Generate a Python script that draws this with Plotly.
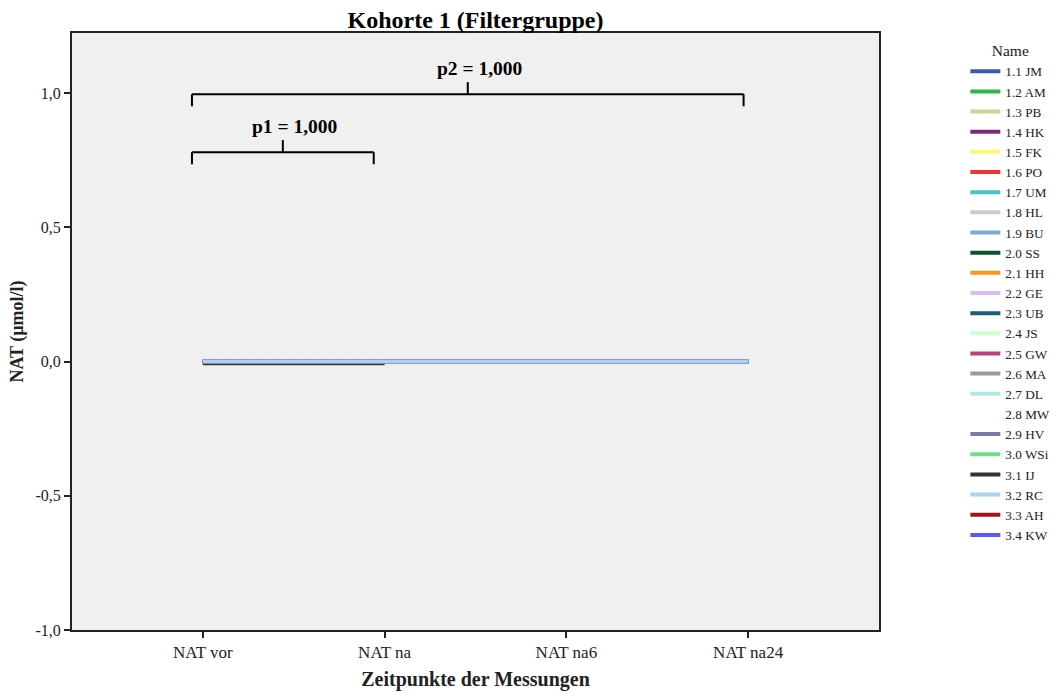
import plotly.graph_objects as go

# ---- data ----
time_points = ["NAT vor", "NAT na", "NAT na6", "NAT na24"]
names = ["1.1 JM", "1.2 AM", "1.3 PB", "1.4 HK", "1.5 FK", "1.6 PO", "1.7 UM", "1.8 HL",
         "1.9 BU", "2.0 SS", "2.1 HH", "2.2 GE", "2.3 UB", "2.4 JS", "2.5 GW", "2.6 MA",
         "2.7 DL", "2.8 MW", "2.9 HV", "3.0 WSi", "3.1 IJ", "3.2 RC", "3.3 AH", "3.4 KW"]
colors = ["#3e58ac", "#2eb848", "#d3ce97", "#7c287d", "#fbf873", "#ef3338", "#48c2c5", "#cccccc",
          "#7aaad5", "#0a562c", "#f8981d", "#ddbaf1", "#1a5f76", "#ccffcc", "#bb3f7f", "#999999",
          "#b5e7e7", "#ffffff", "#797aa7", "#70dc84", "#333333", "#acd0ee", "#a21619", "#5858fb"]
# NAT values (µmol/l) per subject; all measured at 0
values = {n: [0.0, 0.0, 0.0, 0.0] for n in names}
values["3.1 IJ"] = [-0.006, -0.006, None, None]
values["2.8 MW"] = [None, None, None, None]

# significance comparisons: (from index, to index, label, level)
comparisons = [(0, 1, "p1 = 1,000", 0.78), (0, 3, "p2 = 1,000", 0.996)]

y_ticks = [-1.0, -0.5, 0.0, 0.5, 1.0]
y_tick_labels = ["-1,0", "-0,5", "0,0", "0,5", "1,0"]

FONT = "Liberation Serif"

fig = go.Figure()
order = [n for n in names if n != "3.2 RC"] + ["3.2 RC"]
for n in order:
    i = names.index(n)
    fig.add_trace(go.Scatter(
        x=time_points, y=values[n], mode="lines", name=n,
        line=dict(color=colors[i], width=4),
        legendrank=i + 1,
    ))

shapes = []
annotations = []
left_off = -0.06
for a, b, label, lvl in comparisons:
    right_off = -0.06 if b - a == 1 else -0.025
    x0, x1 = a + left_off, b + right_off
    xm = (x0 + x1) / 2
    line = dict(color="black", width=2)
    shapes.append(dict(type="line", x0=x0, x1=x1, y0=lvl, y1=lvl, xref="x", yref="y", line=line))
    shapes.append(dict(type="line", x0=x0, x1=x0, y0=lvl, y1=lvl - 0.045, xref="x", yref="y", line=line))
    shapes.append(dict(type="line", x0=x1, x1=x1, y0=lvl, y1=lvl - 0.045, xref="x", yref="y", line=line))
    shapes.append(dict(type="line", x0=xm, x1=xm, y0=lvl, y1=lvl + 0.045, xref="x", yref="y", line=line))
    annotations.append(dict(x=xm, y=lvl + 0.05, xref="x", yref="y", text="<b>" + label + "</b>",
                            showarrow=False, yanchor="bottom", xshift=12,
                            font=dict(family=FONT, size=19.5, color="black")))

fig.update_layout(
    width=1063, height=693,
    margin=dict(l=72, r=184, t=33, b=63, autoexpand=False),
    paper_bgcolor="white", plot_bgcolor="#f0f0f0",
    font=dict(family=FONT, size=16, color="#222222"),
    title=dict(text="<b>Kohorte 1 (Filtergruppe)</b>", x=(72 + 879) / 2 / 1063, xanchor="center",
               y=1 - 20 / 693, yanchor="middle", font=dict(family=FONT, size=24, color="black")),
    shapes=shapes, annotations=annotations,
    legend=dict(x=1.107, xanchor="left", y=0.995, yanchor="top",
                font=dict(family=FONT, size=13.2, color="#222222"),
                title=dict(text="Name", side="top center", font=dict(family=FONT, size=15.5)),
                tracegroupgap=0, itemwidth=30, bgcolor="rgba(0,0,0,0)"),
    showlegend=True,
)
fig.update_xaxes(
    type="category", categoryorder="array", categoryarray=time_points,
    range=[-0.72, 3.72], showgrid=False, zeroline=False, automargin=False,
    showline=True, linecolor="#222222", linewidth=2, mirror=True,
    ticks="outside", ticklen=6, tickwidth=1.5, tickcolor="#222222",
    tickfont=dict(family=FONT, size=17, color="#222222"),
    title=dict(text="<b>Zeitpunkte der Messungen</b>", standoff=11,
               font=dict(family=FONT, size=20, color="#222222")),
)
fig.update_yaxes(
    range=[-1.0, 1.224], tickvals=y_ticks, ticktext=y_tick_labels,
    showgrid=False, zeroline=False, automargin=False,
    showline=True, linecolor="#222222", linewidth=2, mirror=True,
    ticks="outside", ticklen=6, tickwidth=1.5, tickcolor="#222222",
    tickfont=dict(family=FONT, size=16, color="#222222"),
    title=dict(text="<b>NAT (µmol/l)</b>", standoff=7,
               font=dict(family=FONT, size=18, color="#222222")),
)

fig.write_html("out.html")
